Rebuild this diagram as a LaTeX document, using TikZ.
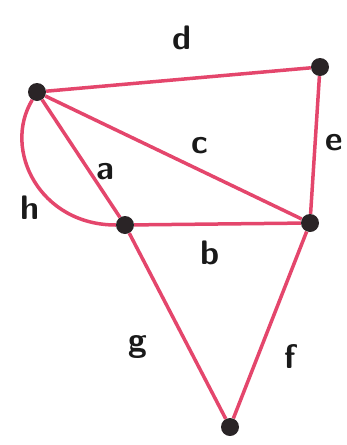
\documentclass[tikz,border=0pt]{standalone}
\usepackage{xcolor}
\usepackage{tikz}
\usetikzlibrary{positioning, calc}

\definecolor{edgepink}{RGB}{228,70,108}
\definecolor{vertexdark}{RGB}{42,36,38}

\begin{document}
\begin{tikzpicture}[x=1pt, y=-1pt,
    every node/.style={font=\fontsize{34}{36}\selectfont\sffamily\bfseries},
    vertex/.style={circle, fill=vertexdark, inner sep=0pt, minimum size=18pt},
    edge/.style={draw=edgepink, line width=3.5pt},
    lbl/.style={text=black!90, inner sep=0pt},
]
\useasboundingbox (0,0) rectangle (346,445);

% Vertices
\node[vertex] (tl) at (37,92) {};
\node[vertex] (tr) at (320,67) {};
\node[vertex] (ml) at (125,225) {};
\node[vertex] (mr) at (310,223) {};
\node[vertex] (bt) at (230,427) {};

% Edges
\draw[edge] (tl) -- (tr);
\draw[edge] (tr) -- (mr);
\draw[edge] (tl) -- (mr);
\draw[edge] (tl) -- (ml);
\draw[edge] (tl) .. controls (2,150) and (40,225) .. (ml);
\draw[edge] (ml) -- (mr);
\draw[edge] (ml) -- (bt);
\draw[edge] (mr) -- (bt);

% Labels
\node[lbl] (ld) at (182,38) {d};
\node[lbl] (le) at (334,143) {e};
\node[lbl] (lc) at (200,146) {c};
\node[lbl] (la) at (105,172) {a};
\node[lbl] (lh) at (30,208) {h};
\node[lbl] (lb) at (210,253) {b};
\node[lbl] (lg) at (138,347) {g};
\node[lbl] (lf) at (290,357) {f};

\end{tikzpicture}
\end{document}
